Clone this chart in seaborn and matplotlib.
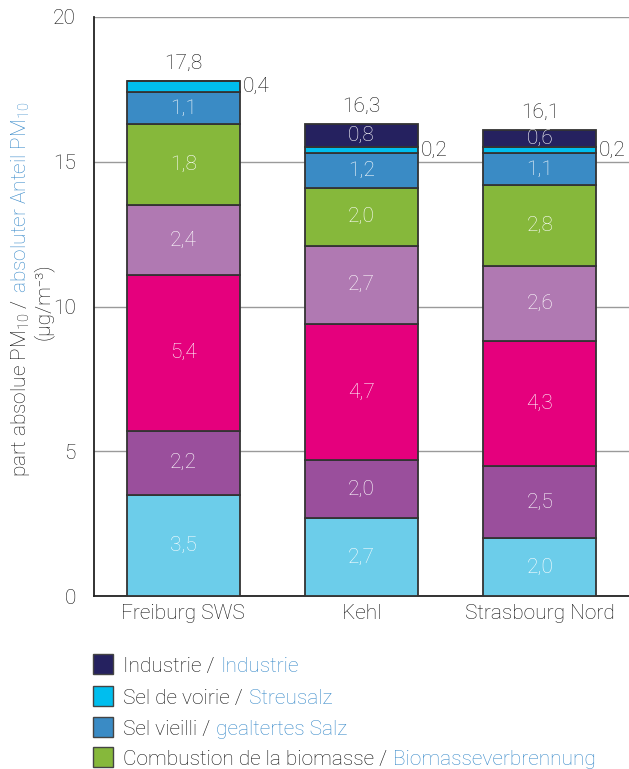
import numpy as np
import matplotlib
matplotlib.use("Agg")
import matplotlib.pyplot as plt
import seaborn as sns
from matplotlib.patches import Rectangle

# ---------------- data ----------------
stations = ["Freiburg SWS", "Kehl", "Strasbourg Nord"]

# stacked from bottom to top
src_bottom1 = [3.5, 2.7, 2.0]      # light blue
src_bottom2 = [2.2, 2.0, 2.5]      # purple
src_bottom3 = [5.4, 4.7, 4.3]      # magenta
src_bottom4 = [2.4, 2.7, 2.6]      # mauve
biomasse = [2.8, 2.0, 2.8]         # green
sel_vieilli = [1.1, 1.2, 1.1]
sel_voirie = [0.4, 0.2, 0.2]
industrie = [0.0, 0.8, 0.6]

# printed labels (the reference prints 1,8 on the Freiburg biomass segment)
biomasse_printed = ["1,8", "2,0", "2,8"]

legend_fr = ["Industrie", "Sel de voirie", "Sel vieilli", "Combustion de la biomasse"]
legend_de = ["Industrie", "Streusalz", "gealtertes Salz", "Biomasseverbrennung"]

yticks = [0, 5, 10, 15, 20]

# ---------------- style ----------------
sns.set_theme(style="white")
plt.rcParams["font.family"] = ["Roboto", "DejaVu Sans"]
plt.rcParams["font.weight"] = "light"
plt.rcParams["mathtext.default"] = "regular"
FS = 15
TXT = "#111111"
BLUE_TXT = "#3a8bca"

colors = ["#6ccdea", "#9a4f9c", "#e5007d", "#b079b2",
          "#86b83b", "#3a8bc5", "#00beee", "#25215f"]
series = [src_bottom1, src_bottom2, src_bottom3, src_bottom4,
          biomasse, sel_vieilli, sel_voirie, industrie]

W, H = 629, 769
fig = plt.figure(figsize=(W / 100, H / 100), dpi=100)
ax = fig.add_axes([94 / W, 1 - 596 / H, 1 - 94 / W, (596 - 17) / H])

BAR_W = 0.633
bottom = np.zeros(len(stations))
for vals, col in zip(series, colors):
    sns.barplot(x=stations, y=vals, bottom=bottom.copy(), color=col, saturation=1,
                width=BAR_W, edgecolor="#333333", linewidth=1.3, errorbar=None,
                order=stations, ax=ax, zorder=3)
    bottom += np.array(vals)

ax.set_ylim(0, 20)
ax.set_xlim(-0.5, 2.5)
ax.set_xlabel("")
ax.set_ylabel("")
ax.set_yticks(yticks)
ax.set_yticklabels([str(t) for t in yticks], fontsize=FS, color=TXT)
ax.set_xticks(range(len(stations)))
ax.set_xticklabels(stations, fontsize=FS, color=TXT)
ax.set_xticks([-0.5, 0.5, 1.5, 2.5], minor=True)
ax.tick_params(axis="x", which="major", length=0, pad=6)
ax.tick_params(axis="x", which="minor", length=8, width=1.3, color="#222222", direction="out")
ax.tick_params(axis="y", length=8, width=1.3, color="#222222", direction="out", pad=5)
ax.yaxis.grid(True, color="#9a9a9a", linewidth=1.0)
ax.xaxis.grid(False)
ax.set_axisbelow(True)
for s in ["top", "right"]:
    ax.spines[s].set_visible(False)
for s in ["left", "bottom"]:
    ax.spines[s].set_color("#222222")
    ax.spines[s].set_linewidth(1.3)


def fmt(v):
    return f"{v:.1f}".replace(".", ",")


# segment labels
cum = np.zeros(len(stations))
for k, vals in enumerate(series):
    for i, v in enumerate(vals):
        if v <= 0:
            continue
        yc = cum[i] + v / 2
        if vals is sel_voirie:
            ax.annotate(fmt(v), (i + BAR_W / 2, yc), xytext=(2, 0),
                        textcoords="offset points", ha="left", va="center",
                        fontsize=FS, color=TXT)
        else:
            lab = biomasse_printed[i] if vals is biomasse else fmt(v)
            ax.text(i, yc, lab, ha="center", va="center", fontsize=FS,
                    color="white", zorder=5)
    cum += np.array(vals)

# totals
for i, tot in enumerate(cum):
    ax.annotate(fmt(tot), (i, tot), xytext=(0, 12.5), textcoords="offset points",
                ha="center", va="center", fontsize=FS, color=TXT)

fig.canvas.draw()
rend = fig.canvas.get_renderer()

# y label (two colours, rotated)
t1 = fig.text(32 / W, 0.5, "part absolue PM$_{10}$ /", rotation=90, ha="right",
              va="bottom", fontsize=FS, color=TXT)
t2 = fig.text(32 / W, 0.5, "absoluter Anteil PM$_{10}$", rotation=90, ha="right",
              va="bottom", fontsize=FS, color=BLUE_TXT)
h1 = t1.get_window_extent(rend).height
h2 = t2.get_window_extent(rend).height
gap = 6
total = h1 + gap + h2
yc_px = H - 289
start = yc_px - total / 2
t1.set_y(start / H)
t2.set_y((start + h1 + gap) / H)
fig.text(33 / W, 1 - 302 / H, "(µg/m⁻³)", rotation=90, ha="left", va="center",
         fontsize=FS, color=TXT)

# legend (manual, two colours)
legend_colors = [colors[7], colors[6], colors[5], colors[4]]
rows = [664, 696, 727, 757]
for fr, de, col, yc in zip(legend_fr, legend_de, legend_colors, rows):
    fig.patches.append(Rectangle((93 / W, 1 - (yc + 10) / H), 20 / W, 20 / H,
                                 transform=fig.transFigure, facecolor=col,
                                 edgecolor="#444444", linewidth=1.0))
    tf = fig.text(123 / W, 1 - (yc + 8) / H, fr + " /", ha="left", va="baseline",
                  fontsize=FS, color=TXT)
    wf = tf.get_window_extent(rend).width
    fig.text((123 + wf + 6) / W, 1 - (yc + 8) / H, de, ha="left", va="baseline",
             fontsize=FS, color=BLUE_TXT)

fig.savefig("out.png", dpi=100)
